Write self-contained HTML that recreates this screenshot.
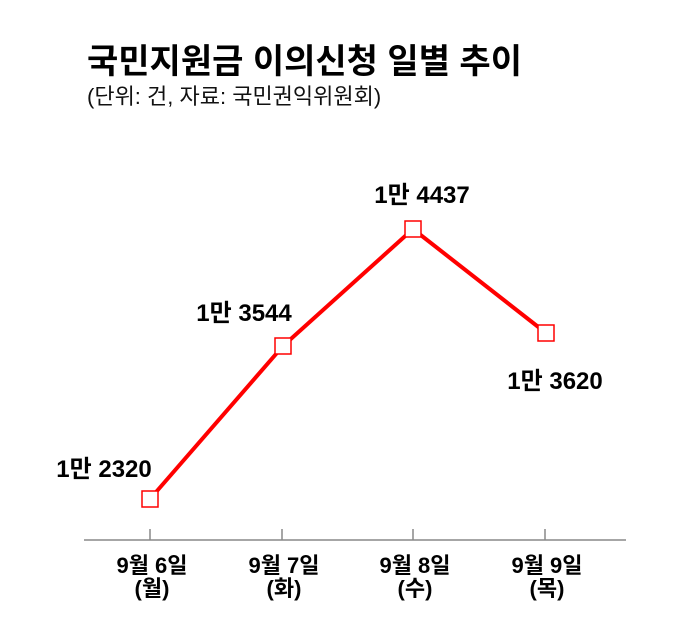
<!DOCTYPE html>
<html><head><meta charset="utf-8"><style>
body{margin:0;background:#fff;width:679px;height:631px;overflow:hidden;font-family:"Liberation Sans","Noto Sans CJK KR",sans-serif}
</style></head><body>
<svg width="679" height="631" xmlns="http://www.w3.org/2000/svg" style="font-family:'Liberation Sans','Noto Sans CJK KR',sans-serif">
<text x="87" y="73" font-size="34" font-weight="bold" fill="#000">국민지원금 이의신청 일별 추이</text>
<text x="87" y="104" font-size="22" fill="#111">(단위: 건, 자료: 국민권익위원회)</text>
<line x1="84" y1="540" x2="626" y2="540" stroke="#888" stroke-width="1.5"/>
<g stroke="#888" stroke-width="1.5">
<line x1="150" y1="529" x2="150" y2="540"/><line x1="282" y1="529" x2="282" y2="540"/>
<line x1="413" y1="529" x2="413" y2="540"/><line x1="545" y1="529" x2="545" y2="540"/></g>
<polyline points="150,499 283,346 413,229 546,333" fill="none" stroke="#f00" stroke-width="4"/>
<g fill="#fff" stroke="#f00" stroke-width="1.5">
<rect x="142" y="491" width="16" height="16"/><rect x="275" y="338" width="16" height="16"/>
<rect x="405" y="221" width="16" height="16"/><rect x="538" y="325" width="16" height="16"/></g>
<g font-size="24" font-weight="bold" fill="#000" text-anchor="middle">
<text x="104" y="477">1만 2320</text>
<text x="244" y="321">1만 3544</text>
<text x="422" y="203">1만 4437</text>
<text x="555" y="389">1만 3620</text>
</g>
<g font-size="22" font-weight="bold" fill="#000" text-anchor="middle">
<text x="152" y="573">9월 6일</text><text x="152" y="596">(월)</text>
<text x="284" y="573">9월 7일</text><text x="284" y="596">(화)</text>
<text x="415" y="573">9월 8일</text><text x="415" y="596">(수)</text>
<text x="547" y="573">9월 9일</text><text x="547" y="596">(목)</text>
</g>
</svg>
</body></html>
